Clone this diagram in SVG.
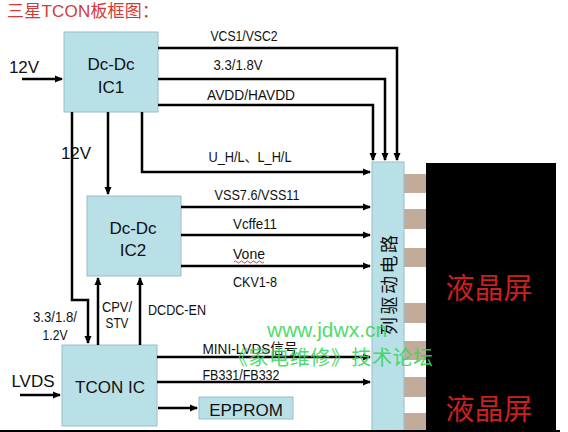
<svg xmlns="http://www.w3.org/2000/svg" width="568" height="432" viewBox="0 0 568 432">
<defs>
<marker id="ah" viewBox="0 0 8 8" refX="7" refY="4" markerWidth="8" markerHeight="8" markerUnits="userSpaceOnUse" orient="auto">
<path d="M0,0.5 L8,4 L0,7.5 Z" fill="#000"/>
</marker>
<style>
.box{fill:#b9dfe7;stroke:#98bec8;stroke-width:1}
.w{fill:none;stroke:#000;stroke-width:2.5}
.a{marker-end:url(#ah)}
.lb{font-family:"Liberation Sans","Noto Sans CJK SC",sans-serif;font-size:14.5px;fill:#111;text-anchor:middle}
.nt{font-family:"Liberation Sans","Noto Sans CJK SC",sans-serif;font-size:17px;fill:#111;text-anchor:middle}
.stripe{fill:#c3ab9a}
.lcd{font-family:"Noto Sans CJK SC",sans-serif;font-size:29px;fill:#cc1f1f;text-anchor:middle}
.wm{font-family:"Liberation Sans","Noto Sans CJK SC",sans-serif;fill:#36d65a;fill-opacity:0.9}
</style>
</defs>
<rect width="568" height="432" fill="#fff"/>
<text x="7" y="17" font-family="Liberation Sans,Noto Sans CJK SC,sans-serif" font-size="17" fill="#d23a3a" textLength="152">三星TCON板框图：</text>

<g id="panel">
<rect x="426" y="163" width="130" height="269" fill="#000"/>
<rect class="stripe" x="404" y="174" width="22" height="19"/>
<rect class="stripe" x="404" y="209" width="22" height="20"/>
<rect class="stripe" x="404" y="248" width="22" height="19"/>
<rect class="stripe" x="404" y="303" width="22" height="20"/>
<rect class="stripe" x="404" y="341" width="22" height="19"/>
<rect class="stripe" x="404" y="377" width="22" height="20"/>
<rect class="stripe" x="404" y="413" width="22" height="19"/>
<text class="lcd" x="489" y="299">液晶屏</text>
<text class="lcd" x="489" y="420">液晶屏</text>
</g>

<g id="coldrv">
<rect class="box" x="372" y="162" width="32" height="272"/>
<text transform="translate(389,285) rotate(-90)" x="0" y="7" font-family="Noto Sans CJK SC,sans-serif" font-size="18" fill="#111" text-anchor="middle" textLength="100">列驱动电路</text>
</g>

<g id="ic1">
<rect class="box" x="64" y="32" width="94" height="80"/>
<text class="nt" x="111" y="70">Dc-Dc</text>
<text class="nt" x="111" y="93">IC1</text>
</g>
<g id="ic2">
<rect class="box" x="87" y="196" width="94" height="80"/>
<text class="nt" x="133" y="234">Dc-Dc</text>
<text class="nt" x="133" y="256">IC2</text>
</g>
<g id="tcon">
<rect class="box" x="62" y="345" width="95" height="81"/>
<text class="nt" x="110" y="393" font-size="18">TCON  IC</text>
</g>
<g id="eprom">
<rect class="box" x="199" y="397" width="94" height="22"/>
<text class="nt" x="246" y="416">EPPROM</text>
</g>

<g id="connectors">
<path class="w a" d="M22,79 H62"/>
<path class="w a" d="M158,48 H397 V160"/>
<path class="w a" d="M158,79 H385 V160"/>
<path class="w a" d="M158,105 H373 V160"/>
<path class="w a" d="M142,112 V172 H370"/>
<path class="w a" d="M108,112 V194"/>
<path class="w a" d="M72,112 V300 H88 V343"/>
<path class="w a" d="M181,207 H370"/>
<path class="w a" d="M181,235 H370"/>
<path class="w a" d="M181,266 H370"/>
<path class="w a" d="M98,345 V278"/>
<path class="w a" d="M140,345 V278"/>
<path class="w a" d="M157,357 H370"/>
<path class="w a" d="M157,382 H370"/>
<path class="w a" d="M158,408 H197"/>
<path class="w a" d="M20,395 H60"/>
</g>

<g id="labels">
<text class="nt" x="24" y="73" text-anchor="start" font-size="17">12V</text>
<text class="nt" x="76" y="159" text-anchor="start" font-size="16">12V</text>
<text class="lb" x="244" y="41" textLength="67" lengthAdjust="spacingAndGlyphs">VCS1/VSC2</text>
<text class="lb" x="238" y="70" textLength="49" lengthAdjust="spacingAndGlyphs">3.3/1.8V</text>
<text class="lb" x="251" y="100" textLength="88" lengthAdjust="spacingAndGlyphs">AVDD/HAVDD</text>
<text class="lb" x="250" y="162" textLength="83" lengthAdjust="spacingAndGlyphs">U_H/L、L_H/L</text>
<text class="lb" x="257" y="200" textLength="85" lengthAdjust="spacingAndGlyphs">VSS7.6/VSS11</text>
<text class="lb" x="255" y="229" textLength="44" lengthAdjust="spacingAndGlyphs">Vcffe11</text>
<text class="lb" x="249" y="259" textLength="32" lengthAdjust="spacingAndGlyphs">Vone</text>
<path d="M234,262 q1.5,-2 3,0 t3,0 t3,0 t3,0 t3,0 t3,0 t3,0 t3,0 t3,0 t3,0" fill="none" stroke="#e04040" stroke-width="1"/>
<text class="lb" x="255" y="287" textLength="44" lengthAdjust="spacingAndGlyphs">CKV1-8</text>
<text class="lb" x="55" y="322" textLength="44" lengthAdjust="spacingAndGlyphs">3.3/1.8/</text>
<text class="lb" x="55" y="340" textLength="25" lengthAdjust="spacingAndGlyphs">1.2V</text>
<text class="lb" x="117" y="312" textLength="30" lengthAdjust="spacingAndGlyphs">CPV/</text>
<text class="lb" x="117" y="328" textLength="23" lengthAdjust="spacingAndGlyphs">STV</text>
<text class="lb" x="177" y="315" textLength="58" lengthAdjust="spacingAndGlyphs">DCDC-EN</text>
<text class="lb" x="250" y="354" textLength="95" lengthAdjust="spacingAndGlyphs">MINI-LVDS信号</text>
<text class="lb" x="241" y="380" textLength="77" lengthAdjust="spacingAndGlyphs">FB331/FB332</text>
<text class="nt" x="33" y="387" font-size="16">LVDS</text>
</g>

<g id="watermark">
<text class="wm" x="267" y="337" font-size="21">www.jdwx.cn</text>
<text class="wm" x="228" y="365" font-size="20" textLength="205">《家电维修》技术论坛</text>
</g>
<line x1="0" y1="431" x2="560" y2="431" stroke="#000" stroke-width="2"/>
</svg>
